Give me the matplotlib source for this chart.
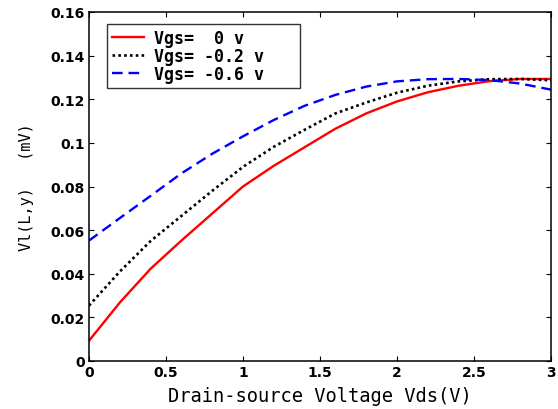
import matplotlib
matplotlib.use("Agg")
import matplotlib.pyplot as plt

vds = [0.0, 0.2, 0.4, 0.6, 0.8, 1.0, 1.2, 1.4, 1.6, 1.8, 2.0, 2.2, 2.4, 2.6, 2.8, 3.0]
vl_vgs0 = [0.0093, 0.0268, 0.0423, 0.0552, 0.0676, 0.0800, 0.0895, 0.0980, 0.1065,
           0.1135, 0.1190, 0.1232, 0.1262, 0.1283, 0.1293, 0.1293]
vl_vgs02 = [0.0254, 0.0410, 0.0550, 0.0665, 0.0780, 0.0890, 0.0982, 0.1060, 0.1135,
            0.1185, 0.1230, 0.1262, 0.1282, 0.1292, 0.1293, 0.1287]
vl_vgs06 = [0.0552, 0.0655, 0.0757, 0.0860, 0.0950, 0.1030, 0.1105, 0.1170, 0.1220,
            0.1258, 0.1282, 0.1292, 0.1293, 0.1288, 0.1272, 0.1244]
labels = ["Vgs=  0 v", "Vgs= -0.2 v", "Vgs= -0.6 v"]
xticks = [0, 0.5, 1, 1.5, 2, 2.5, 3]
xticklabels = ["0", "0.5", "1", "1.5", "2", "2.5", "3"]
yticks = [0, 0.02, 0.04, 0.06, 0.08, 0.1, 0.12, 0.14, 0.16]
yticklabels = ["0", "0.02", "0.04", "0.06", "0.08", "0.1", "0.12", "0.14", "0.16"]

fig = plt.figure(figsize=(5.58, 4.10), dpi=100)
ax = fig.add_axes([89/558, 1 - 362/410, (551 - 89)/558, (362 - 13)/410])

ax.plot(vds, vl_vgs0, color="red", lw=1.7, ls="-", label=labels[0])
ax.plot(vds, vl_vgs02, color="black", lw=1.9, ls=(0, (1, 1.2)), label=labels[1])
ax.plot(vds, vl_vgs06, color="blue", lw=1.7, ls=(0, (4.5, 2.5)), label=labels[2])

ax.set_xlim(0, 3)
ax.set_ylim(0, 0.16)
ax.set_xticks(xticks)
ax.set_xticklabels(xticklabels, fontweight="bold", fontsize=10)
ax.set_yticks(yticks)
ax.set_yticklabels(yticklabels, fontweight="bold", fontsize=10)
ax.tick_params(direction="in", top=True, right=True, length=3.5, width=0.8, pad=3)
for s in ax.spines.values():
    s.set_linewidth(1.1)

ax.set_xlabel("Drain-source Voltage Vds(V)", family="DejaVu Sans Mono", fontsize=13.5, labelpad=5)
ax.set_ylabel("Vl(L,y)   (mV)", family="DejaVu Sans Mono", fontsize=11, labelpad=12)

leg_h = (87 - 25) / 349
leg = ax.legend(loc="upper left", bbox_to_anchor=(0.039, 0.966 - leg_h, (300 - 107) / 462, leg_h),
                mode="expand", frameon=True, fancybox=False,
                edgecolor="black", handlelength=1.9, handletextpad=0.6, borderpad=0.3,
                borderaxespad=0.0, labelspacing=0.0,
                prop={"family": "DejaVu Sans Mono", "weight": "bold", "size": 12})
leg.get_frame().set_linewidth(1.0)

fig.savefig("out.png", dpi=100)
